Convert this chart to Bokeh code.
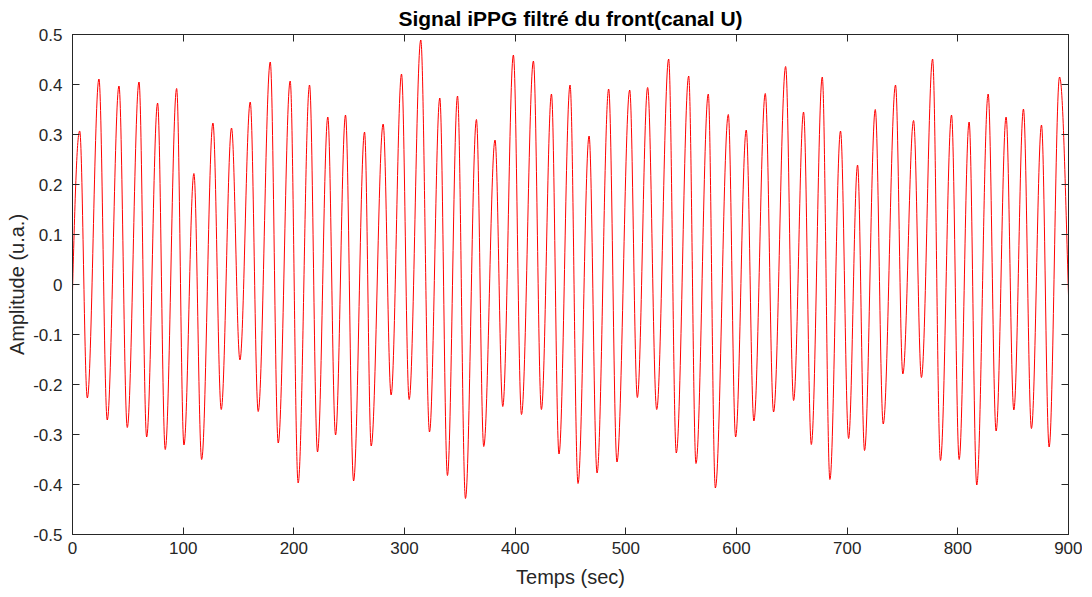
from bokeh.plotting import figure
from bokeh.models import ColumnDataSource, LinearAxis, FixedTicker, CustomJSTickFormatter
from bokeh.embed import file_html
from bokeh.resources import INLINE

# ---- data ----
start_t, start_v = 0.0, -0.013
end_t, end_v = 900.0, -0.022

peak_t = [6.5, 23.9, 42.0, 60.1, 76.9, 94.1, 109.7, 126.9, 143.7, 160.6, 178.7, 196.7,
          214.2, 230.7, 246.7, 263.9, 280.7, 297.3, 314.7, 331.9, 347.9, 365.0, 381.8,
          398.4, 416.5, 432.8, 449.6, 466.8, 484.5, 503.5, 519.7, 538.7, 556.8, 574.5,
          592.6, 608.8, 626.0, 644.4, 660.6, 677.5, 694.0, 709.4, 725.4, 743.7, 760.0,
          777.2, 794.3, 810.2, 827.4, 843.6, 859.3, 875.6, 891.9]
peak_v = [0.307, 0.411, 0.397, 0.405, 0.363, 0.392, 0.222, 0.323, 0.313, 0.365, 0.445, 0.407,
          0.399, 0.335, 0.339, 0.305, 0.321, 0.421, 0.489, 0.373, 0.377, 0.330, 0.289,
          0.459, 0.447, 0.381, 0.399, 0.297, 0.391, 0.389, 0.394, 0.451, 0.417, 0.381,
          0.340, 0.309, 0.382, 0.436, 0.345, 0.415, 0.307, 0.239, 0.350, 0.399, 0.328,
          0.451, 0.339, 0.325, 0.381, 0.335, 0.351, 0.319, 0.415]

trough_t = [13.4, 31.4, 49.5, 67.0, 83.8, 100.7, 116.7, 134.4, 151.3, 167.8, 185.9, 203.9,
            221.4, 237.7, 254.0, 269.9, 287.9, 304.2, 322.6, 338.8, 355.1, 371.6, 388.8,
            405.7, 423.7, 439.6, 456.8, 474.0, 492.0, 510.4, 527.9, 545.6, 563.4, 580.9,
            599.2, 615.7, 633.5, 651.6, 667.6, 684.4, 701.3, 715.7, 732.6, 750.3, 767.1,
            784.3, 801.2, 817.1, 834.6, 850.6, 866.5, 882.5]
trough_v = [-0.227, -0.271, -0.286, -0.305, -0.330, -0.321, -0.350, -0.250, -0.151, -0.254,
            -0.317, -0.397, -0.335, -0.301, -0.393, -0.323, -0.221, -0.230, -0.295, -0.382,
            -0.428, -0.324, -0.244, -0.260, -0.250, -0.339, -0.398, -0.377, -0.355, -0.226,
            -0.250, -0.337, -0.358, -0.407, -0.305, -0.273, -0.255, -0.232, -0.320, -0.390,
            -0.308, -0.332, -0.279, -0.179, -0.186, -0.352, -0.350, -0.401, -0.293, -0.251,
            -0.288, -0.325]

x_ticks = [0, 100, 200, 300, 400, 500, 600, 700, 800, 900]
y_ticks = [-0.5, -0.4, -0.3, -0.2, -0.1, 0.0, 0.1, 0.2, 0.3, 0.4, 0.5]

# ---- build smooth segments between consecutive extrema ----
pts = [(start_t, start_v, False)]
ext = sorted([(t, v, True) for t, v in zip(peak_t, peak_v)] +
             [(t, v, True) for t, v in zip(trough_t, trough_v)])
pts += ext
pts.append((end_t, end_v, False))

K = 0.36
x0s, y0s, x1s, y1s, cx0s, cy0s, cx1s, cy1s = ([] for _ in range(8))
for (ta, va, ea), (tb, vb, eb) in zip(pts[:-1], pts[1:]):
    dx = tb - ta
    x0s.append(ta); y0s.append(va); x1s.append(tb); y1s.append(vb)
    cx0s.append(ta + K * dx)
    cy0s.append(va if ea else va + 0.6 * (vb - va))
    cx1s.append(tb - K * dx)
    cy1s.append(vb if eb else vb + 0.5 * (va - vb))

src = ColumnDataSource(dict(x0=x0s, y0=y0s, x1=x1s, y1=y1s,
                            cx0=cx0s, cy0=cy0s, cx1=cx1s, cy1=cy1s))

FONT = "Liberation Sans"
AX = "#262626"

p = figure(frame_width=996, frame_height=500, x_range=(0, 900), y_range=(-0.5, 0.5),
           output_backend="svg", toolbar_location=None,
           min_border_left=72, min_border_right=14, min_border_top=32, min_border_bottom=40,
           title="Signal iPPG filtré du front(canal U)")
p.title.align = "center"
p.title.text_font = FONT
p.title.text_font_size = "21px"
p.title.text_font_style = "bold"
p.title.text_color = "black"
p.title.standoff = 9

p.bezier(x0="x0", y0="y0", x1="x1", y1="y1", cx0="cx0", cy0="cy0", cx1="cx1", cy1="cy1",
         source=src, line_color="red", line_width=1)

p.xgrid.visible = False
p.ygrid.visible = False
p.outline_line_color = AX
p.outline_line_width = 1

xfmt = CustomJSTickFormatter(code="return tick.toFixed(0);")
yfmt = CustomJSTickFormatter(code="return Math.abs(tick) < 1e-9 ? '0' : tick.toFixed(1);")
blank = CustomJSTickFormatter(code="return '';")

def style(ax):
    ax.major_tick_in = 7
    ax.major_tick_out = 0
    ax.minor_tick_in = 0
    ax.minor_tick_out = 0
    ax.axis_line_color = AX
    ax.major_tick_line_color = AX
    ax.major_label_text_font = FONT
    ax.major_label_text_font_size = "17px"
    ax.major_label_text_color = AX
    ax.axis_label_text_font = FONT
    ax.axis_label_text_font_size = "20px"
    ax.axis_label_text_font_style = "normal"
    ax.axis_label_text_color = AX

xa = p.xaxis[0]
xa.ticker = FixedTicker(ticks=x_ticks)
xa.formatter = xfmt
xa.axis_label = "Temps (sec)"
style(xa)
xa.major_label_standoff = 7
xa.axis_label_standoff = 9

ya = p.yaxis[0]
ya.ticker = FixedTicker(ticks=y_ticks)
ya.formatter = yfmt
ya.axis_label = "Amplitude (u.a.)"
style(ya)
ya.major_label_standoff = 10
ya.axis_label_standoff = 2

top = LinearAxis(ticker=FixedTicker(ticks=x_ticks), formatter=blank)
style(top)
top.major_label_standoff = 0
p.add_layout(top, "above")

right = LinearAxis(ticker=FixedTicker(ticks=y_ticks), formatter=blank)
style(right)
right.major_label_standoff = 0
p.add_layout(right, "right")

open("out.html", "w").write(file_html(p, INLINE))
